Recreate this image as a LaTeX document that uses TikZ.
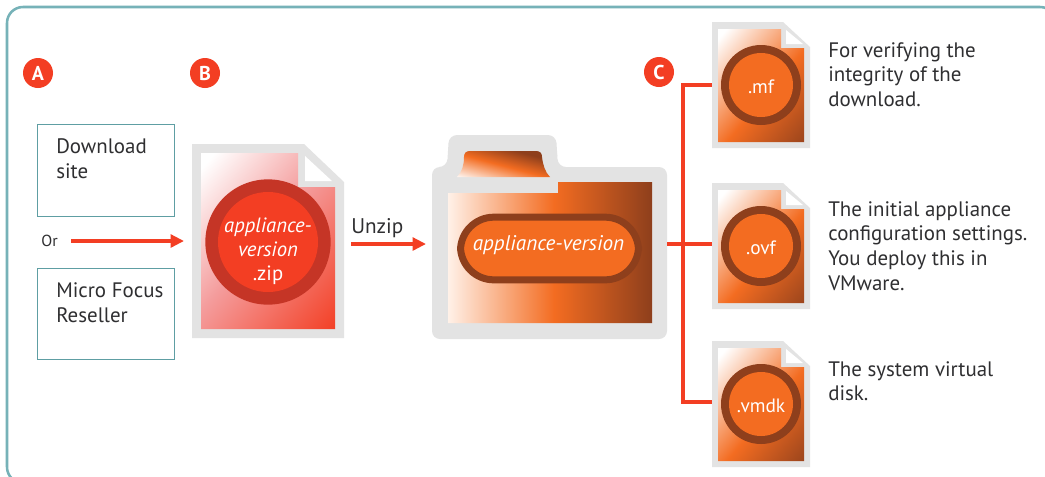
\documentclass[tikz,border=0pt]{standalone}
\usepackage{fontspec}
\setmainfont{PT Sans}
\usetikzlibrary{arrows.meta}
\definecolor{frameC}{HTML}{76B2B8}
\definecolor{boxC}{HTML}{5E9EA3}
\definecolor{redC}{HTML}{F33E23}
\definecolor{darkredC}{HTML}{C53526}
\definecolor{pinkC}{HTML}{F49C9C}
\definecolor{orangeC}{HTML}{F36C21}
\definecolor{brownC}{HTML}{8E3F1C}
\definecolor{grayC}{HTML}{E3E3E3}
\definecolor{txtC}{HTML}{2F2F31}
\definecolor{paleC}{HTML}{FFF1E8}
\pgfdeclareverticalshading{docred}{100bp}{color(0bp)=(redC);color(14bp)=(redC);color(52bp)=(pinkC);color(82bp)=(white);color(100bp)=(white)}
\pgfdeclareverticalshading{docorange}{100bp}{color(0bp)=(brownC);color(10bp)=(brownC);color(45bp)=(orangeC);color(82bp)=(white);color(100bp)=(white)}
\pgfdeclareverticalshading{tabshade}{100bp}{color(0bp)=(brownC);color(30bp)=(brownC);color(52bp)=(orangeC);color(82bp)=(white);color(100bp)=(white)}
\pgfdeclarehorizontalshading{folderbody}{100bp}{color(0bp)=(paleC);color(25bp)=(paleC);color(51bp)=(orangeC);color(75bp)=(brownC);color(100bp)=(brownC)}
\tikzset{
  px/.style={x=0.75pt,y=-0.75pt},
  badge/.style={circle,fill=redC,inner sep=0pt,minimum size=22.5pt,text=white,font=\fontsize{15}{15}\selectfont\bfseries},
  sourcebox/.style={draw=boxC,line width=0.75pt,inner sep=0pt,minimum width=102.75pt},
  boxtext/.style={text=txtC,align=left,anchor=north west,inner sep=0pt,font=\fontsize{15.7}{18.8}\selectfont},
  note/.style={text=txtC,align=left,anchor=north west,inner sep=0pt,font=\fontsize{15.7}{18.6}\selectfont},
  conn/.style={draw=redC,line width=3pt},
  arr/.style={draw=redC,line width=3pt,-{Triangle[length=10pt,width=9.5pt]}},
  shell/.style={inner sep=0pt,draw=none},
  ringtext/.style={text=white,align=center,inner sep=0pt},
}
\newcommand{\smalldoc}[4]{% name, left x, top y, label
  \begin{scope}[shift={(#2,#3)}]
    \fill[grayC] (0,0) -- (71,0) -- (98,25) -- (98,126) -- (0,126) -- cycle;
    \path[shade,shading=docorange,shading angle=50] (6,7) -- (69,7) -- (69,26) -- (92,26) -- (92,120) -- (6,120) -- cycle;
    \fill[white] (74,8) -- (74,22) -- (91,22) -- cycle;
    \node[circle,fill=brownC,inner sep=0pt,minimum size=60pt] (#1ring) at (49,63) {};
    \node[circle,fill=orangeC,inner sep=0pt,minimum size=48pt] (#1core) at (49,63) {};
    \node[ringtext,font=\fontsize{14.5}{15}\selectfont] (#1lab) at (49,65) {#4};
    \node[shell,minimum width=73.5pt,minimum height=94.5pt] (#1) at (49,63) {};
  \end{scope}
}
\begin{document}
\begin{tikzpicture}[px]
\useasboundingbox (0,0) rectangle (1045,476);
\fill[white] (0,0) rectangle (1045,476);
\draw[frameC,line width=1.9pt,rounded corners=12pt] (7,7) -- (1056,7) -- (1056,483) -- (7,483) -- cycle;
\node[badge] (A) at (38,73) {A};
\node[badge] (B) at (205,73) {B};
\node[badge] (C) at (659,72) {C};
% sources
\node[sourcebox,minimum height=69pt] (dl) at (106,170.5) {};
\node[sourcebox,minimum height=68.25pt] (mfr) at (106,314) {};
\node[boxtext] (dlt) at (56,138) {Download\\site};
\node[boxtext] (mfrt) at (56,282) {Micro Focus\\Reseller};
\node[text=txtC,inner sep=0pt,font=\fontsize{12}{12}\selectfont] (or) at (49.5,241) {Or};
\coordinate (orS) at (71,241);
\coordinate (orE) at (184,241);
\draw[arr] (orS) -- (orE);
% zip doc
\fill[grayC] (192,144) -- (304,144) -- (344,182) -- (344,338) -- (192,338) -- cycle;
\path[shade,shading=docred,shading angle=50] (201,153) -- (298,153) -- (298,187) -- (335,187) -- (335,329) -- (201,329) -- cycle;
\fill[white] (305,156) -- (305,181) -- (332,181) -- cycle;
\node[circle,fill=darkredC,inner sep=0pt,minimum size=94pt] (zipring) at (268,242) {};
\node[circle,fill=redC,inner sep=0pt,minimum size=75pt] (zipcore) at (268,242) {};
\node[ringtext,font=\fontsize{15.5}{18}\selectfont] (ziplab) at (268,251) {\itshape appliance-\\\itshape version\\.zip};
\node[shell,minimum width=114pt,minimum height=145.5pt] (zipdoc) at (268,241) {};
% unzip
\node[text=txtC,inner sep=0pt,anchor=base west,font=\fontsize{15.9}{16}\selectfont] (unz) at (351,233) {Unzip};
\coordinate (uS) at (351,244);
\coordinate (uE) at (426,244);
\draw[arr] (uS) -- (uE);
% folder
\fill[grayC,rounded corners=6pt] (432,339) -- (432,167) -- (447,167) -- (449,135) -- (556,135) -- (558,167) -- (667,167) -- (667,339) -- cycle;
\fill[grayC,rounded corners=14pt] (448,175) -- (448,135) -- (557,135) -- (557,175) -- cycle;
\path[shade,shading=folderbody] (448,193) -- (558,193) -- (558,182) -- (652,182) -- (652,323) -- (448,323) -- cycle;
\path[shade,shading=tabshade,shading angle=165] (457,177) .. controls (462,172) and (464,165) .. (464,157) .. controls (464,153) and (466,151) .. (470,151) -- (536,151) .. controls (540,151) and (542,153) .. (542,157) .. controls (543,165) and (545,172) .. (550,177) -- cycle;
\node[rectangle,rounded corners=25pt,fill=orangeC,draw=brownC,line width=5.25pt,minimum width=133.5pt,minimum height=47pt,inner sep=0pt] (pill) at (549.5,248.5) {};
\node[text=white,inner sep=0pt,font=\fontsize{15.9}{16}\selectfont\itshape] (folderlab) at (548.5,245.5) {appliance-version};
\node[shell,minimum width=176.25pt,minimum height=129pt] (fold) at (549.5,253) {};
% docs
\smalldoc{mf}{712}{22}{.mf}
\smalldoc{ovf}{712}{183}{.ovf}
\smalldoc{vmdk}{712}{341}{.vmdk}
% connectors
\coordinate (junc) at (683,244);
\draw[conn] (mf.west) -- (683,85) -- (683,402) -- (vmdk.west |- 683,402);
\draw[conn] (fold.east |- junc) -- (ovf.west |- junc);
% notes
\node[note] (n1) at (828,42) {For verifying the\\integrity of the\\download.};
\node[note] (n2) at (828,201) {The initial appliance\\configuration settings.\\You deploy this in\\VMware.};
\node[note] (n3) at (828,361) {The system virtual\\disk.};
\end{tikzpicture}
\end{document}
